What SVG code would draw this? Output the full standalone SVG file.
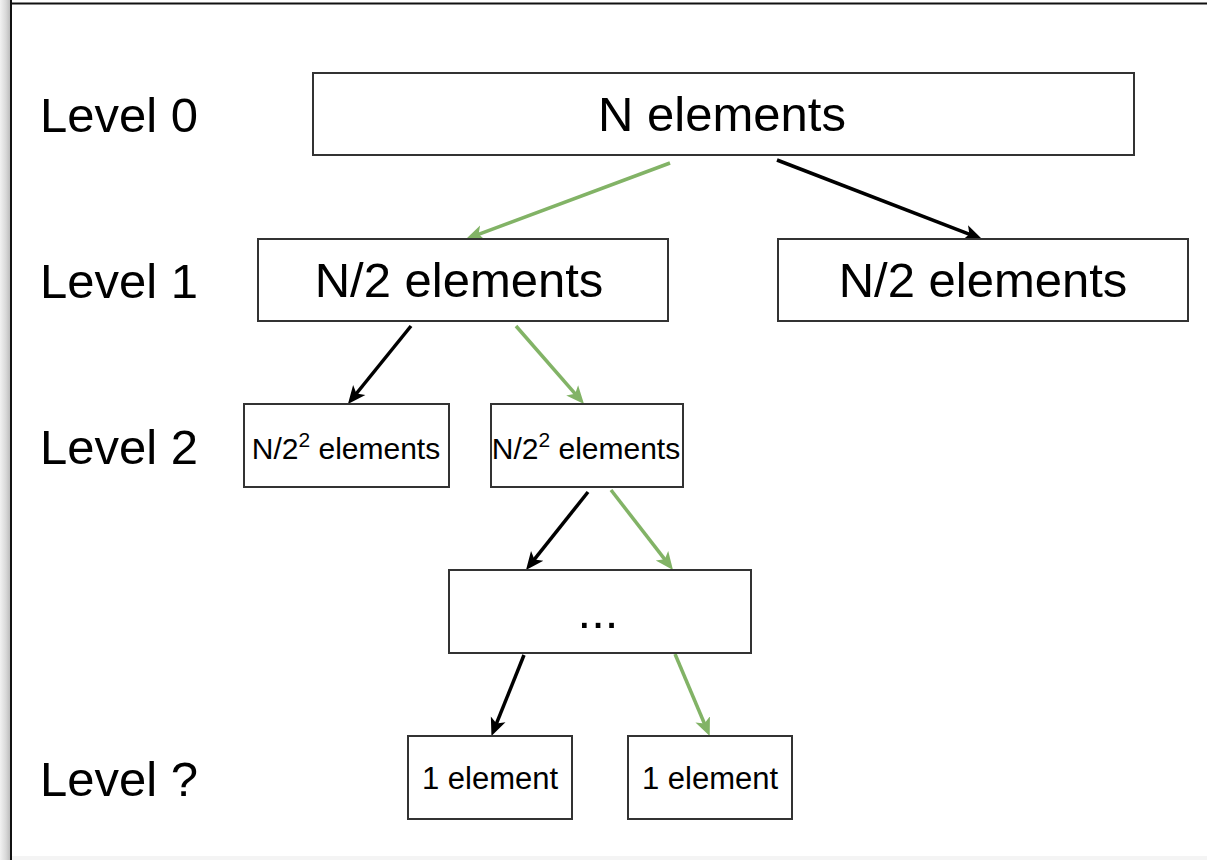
<svg xmlns="http://www.w3.org/2000/svg" width="1207" height="860" viewBox="0 0 1207 860">
  <style>
    .box { fill: #ffffff; stroke: #333333; stroke-width: 2; }
    .lvl { font-family: "Liberation Sans", Arial, sans-serif; font-size: 49px; fill: #000000; }
    .big { font-family: "Liberation Sans", Arial, sans-serif; font-size: 49px; fill: #000000; text-anchor: middle; }
    .mid { font-family: "Liberation Sans", Arial, sans-serif; font-size: 30px; fill: #000000; text-anchor: middle; }
    .sm { font-family: "Liberation Sans", Arial, sans-serif; font-size: 31px; fill: #000000; text-anchor: middle; }
    .edge { fill: none; stroke-width: 3.5; }
    .blk { stroke: #000000; }
    .grn { stroke: #82b366; }
  </style>
  <defs>
    <linearGradient id="sideStrip" x1="0" y1="0" x2="1" y2="0">
      <stop offset="0" stop-color="#f2f2f2"/>
      <stop offset="0.6" stop-color="#d8d8d8"/>
      <stop offset="1" stop-color="#bdbdbd"/>
    </linearGradient>
    <marker id="arrBlack" viewBox="0 0 16 16" markerWidth="18" markerHeight="18" refX="8" refY="8" orient="auto" markerUnits="userSpaceOnUse">
      <path d="M0,1 L16,8 L0,15 L4,8 z" fill="#000000"/>
    </marker>
    <marker id="arrGreen" viewBox="0 0 16 16" markerWidth="18" markerHeight="18" refX="8" refY="8" orient="auto" markerUnits="userSpaceOnUse">
      <path d="M0,1 L16,8 L0,15 L4,8 z" fill="#82b366"/>
    </marker>
  </defs>

  <!-- page frame -->
  <rect x="0" y="0" width="1207" height="860" fill="#ffffff"/>
  <rect x="0" y="0" width="10" height="860" fill="url(#sideStrip)"/>
  <line x1="11" y1="0" x2="11" y2="860" stroke="#111111" stroke-width="2"/>
  <line x1="11" y1="3.5" x2="1207" y2="3.5" stroke="#111111" stroke-width="2"/>
  <rect x="12" y="856" width="1195" height="4" fill="#f4f4f4"/>

  <!-- level labels -->
  <g id="levels">
    <text class="lvl" x="40" y="132">Level 0</text>
    <text class="lvl" x="40" y="298">Level 1</text>
    <text class="lvl" x="40" y="464">Level 2</text>
    <text class="lvl" x="40" y="796">Level ?</text>
  </g>

  <!-- connectors -->
  <g id="connectors">
    <line class="edge grn" x1="670" y1="163" x2="474.4" y2="235.9" marker-end="url(#arrGreen)"/>
    <line class="edge blk" x1="777" y1="160" x2="973.6" y2="235.8" marker-end="url(#arrBlack)"/>
    <line class="edge blk" x1="411" y1="326" x2="353.6" y2="397" marker-end="url(#arrBlack)"/>
    <line class="edge grn" x1="516" y1="326" x2="578.1" y2="397.2" marker-end="url(#arrGreen)"/>
    <line class="edge blk" x1="588" y1="492" x2="531.6" y2="562.9" marker-end="url(#arrBlack)"/>
    <line class="edge grn" x1="611" y1="490" x2="667.5" y2="562.9" marker-end="url(#arrGreen)"/>
    <line class="edge blk" x1="524" y1="655" x2="494.8" y2="727.7" marker-end="url(#arrBlack)"/>
    <line class="edge grn" x1="675" y1="654" x2="706.2" y2="727.7" marker-end="url(#arrGreen)"/>
  </g>

  <!-- nodes -->
  <g id="n0">
    <rect class="box" x="313" y="73" width="821" height="82"/>
    <text class="big" x="722" y="131">N elements</text>
  </g>
  <g id="n1a">
    <rect class="box" x="258" y="239" width="410" height="82"/>
    <text class="big" x="459" y="297">N/2 elements</text>
  </g>
  <g id="n1b">
    <rect class="box" x="778" y="239" width="410" height="82"/>
    <text class="big" x="983" y="297">N/2 elements</text>
  </g>
  <g id="n2a">
    <rect class="box" x="244" y="404" width="205" height="83"/>
    <text class="mid" x="346" y="459">N/2<tspan font-size="21" dy="-12">2</tspan><tspan dy="12"> elements</tspan></text>
  </g>
  <g id="n2b">
    <rect class="box" x="491" y="404" width="192" height="83"/>
    <text class="mid" x="586" y="459">N/2<tspan font-size="21" dy="-12">2</tspan><tspan dy="12"> elements</tspan></text>
  </g>
  <g id="nDots">
    <rect class="box" x="449" y="570" width="302" height="83"/>
    <text class="big" x="598" y="628" font-size="36">...</text>
  </g>
  <g id="nLeafA">
    <rect class="box" x="408" y="736" width="164" height="83"/>
    <text class="sm" x="490" y="789">1 element</text>
  </g>
  <g id="nLeafB">
    <rect class="box" x="628" y="736" width="164" height="83"/>
    <text class="sm" x="710" y="789">1 element</text>
  </g>
</svg>
